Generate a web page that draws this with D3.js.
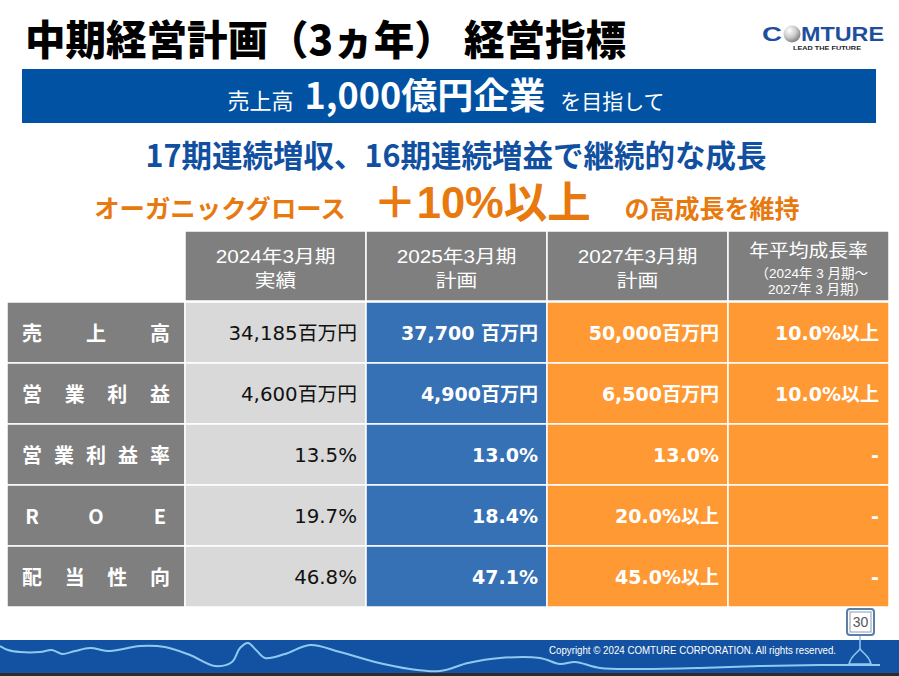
<!DOCTYPE html>
<html><head><meta charset="utf-8">
<script src="https://cdn.jsdelivr.net/npm/d3@7/dist/d3.min.js"></script>
<style>html,body{margin:0;padding:0;background:#fff;overflow:hidden}svg{display:block}</style>
</head><body>
<script>
// ---------- data ----------
const titleText = "中期経営計画（3ヵ年） 経営指標";
const bannerParts = ["売上高", "1,000億円企業", "を目指して"];
const subtitleText = "17期連続増収、16期連続増益で継続的な成長";
const growthParts = ["オーガニックグロース", "＋10%以上", "の高成長を維持"];
const rowLabels = ["売上高", "営業利益", "営業利益率", "ROE", "配当性向"];
const colHeaders = [["2024年3月期", "実績"], ["2025年3月期", "計画"], ["2027年3月期", "計画"]];
const cagrHeader = ["年平均成長率", "（2024年 3 月期～", "2027年 3 月期）"];
const actual2024 = ["34,185百万円", "4,600百万円", "13.5%", "19.7%", "46.8%"];
const plan2025 = ["37,700 百万円", "4,900百万円", "13.0%", "18.4%", "47.1%"];
const plan2027 = ["50,000百万円", "6,500百万円", "13.0%", "20.0%以上", "45.0%以上"];
const cagr = ["10.0%以上", "10.0%以上", "-", "-", "-"];
const copyright = "Copyright © 2024 COMTURE CORPORATION. All rights reserved.";
const pageNumber = "30";

// ---------- setup ----------
const W = 899, H = 676;
const JP = "'Noto Sans CJK JP','Noto Sans CJK SC',sans-serif";
const LAT = "'Liberation Sans','Noto Sans CJK JP',sans-serif";
const NUM = "'DejaVu Sans','Noto Sans CJK JP',sans-serif";
const svg = d3.select("body").append("svg").attr("width", W).attr("height", H);

const defs = svg.append("defs");
const rg = defs.append("radialGradient").attr("id", "ball").attr("cx", "35%").attr("cy", "30%").attr("r", "75%");
rg.append("stop").attr("offset", "0%").attr("stop-color", "#ffffff");
rg.append("stop").attr("offset", "55%").attr("stop-color", "#c8c8c8");
rg.append("stop").attr("offset", "100%").attr("stop-color", "#7a7a7a");

// title
svg.append("text").attr("x", 25).attr("y", 55)
  .attr("font-family", JP).attr("font-weight", 900).attr("font-size", 40.5)
  .attr("fill", "#000").text(titleText);

// logo
svg.append("circle").attr("cx", 792).attr("cy", 34).attr("r", 8.5).attr("fill", "url(#ball)");
svg.append("text").attr("x", 762).attr("y", 40.5).attr("font-family", "'Liberation Sans',sans-serif")
  .attr("font-weight", "bold").attr("font-size", 20).attr("fill", "#1f4f9c")
  .attr("textLength", 20).attr("lengthAdjust", "spacingAndGlyphs").text("C");
svg.append("text").attr("x", 801).attr("y", 40.5).attr("font-family", "'Liberation Sans',sans-serif")
  .attr("font-weight", "bold").attr("font-size", 20).attr("fill", "#1f4f9c")
  .attr("textLength", 83).attr("lengthAdjust", "spacingAndGlyphs").text("MTURE");
svg.append("text").attr("x", 793).attr("y", 50)
  .attr("font-family", "'Liberation Sans',sans-serif").attr("font-weight", "bold").attr("font-size", 5.5)
  .attr("fill", "#222").attr("textLength", 68).attr("lengthAdjust", "spacingAndGlyphs").text("LEAD THE FUTURE");

// banner
svg.append("rect").attr("x", 22).attr("y", 69).attr("width", 854).attr("height", 54).attr("fill", "#0152a3");
const bt = svg.append("text").attr("x", 446).attr("y", 109).attr("text-anchor", "middle")
  .attr("font-family", JP).attr("fill", "#fff");
bt.append("tspan").attr("font-size", 22).text(bannerParts[0]);
bt.append("tspan").attr("dx", 11).attr("font-size", 36).attr("font-weight", "bold").text(bannerParts[1]);
bt.append("tspan").attr("dx", 15).attr("font-size", 21).text(bannerParts[2]);

// subtitle
svg.append("text").attr("x", 456).attr("y", 167).attr("text-anchor", "middle")
  .attr("font-family", JP).attr("font-weight", "bold").attr("font-size", 30.5)
  .attr("fill", "#1150a0").text(subtitleText);

// growth line
const gCenters = [220, 482, 712];
const gSizes = [25.4, 43.5, 25];
const gFonts = [JP, LAT, JP];
growthParts.forEach((t, i) => {
  svg.append("text").attr("x", gCenters[i]).attr("y", 218).attr("text-anchor", "middle")
    .attr("font-family", gFonts[i]).attr("font-weight", "bold").attr("font-size", gSizes[i])
    .attr("fill", "#e8790f").text(t);
});

// ---------- table ----------
const colEdges = [7, 185, 366, 547, 728, 889];
const colX = i => colEdges[i];
const colW = i => colEdges[i + 1] - colEdges[i];
const y = d3.scaleBand().domain(rowLabels).range([302, 607]);
const headTop = 231, headBot = 301;
const fills = ["#7f7f7f", "#d9d9d9", "#3670b5", "#ff9933", "#ff9933"];
const textFill = ["#fff", "#111", "#fff", "#fff", "#fff"];
const weights = ["bold", "normal", "bold", "bold", "bold"];
const columns = [rowLabels, actual2024, plan2025, plan2027, cagr];

// header
const hdr = svg.append("g");
for (let c = 1; c <= 4; c++) {
  hdr.append("rect").attr("x", colX(c)).attr("y", headTop).attr("width", colW(c)).attr("height", headBot - headTop)
    .attr("fill", "#7f7f7f").attr("stroke", "#fff").attr("stroke-width", 1.5);
}
colHeaders.forEach((lines, i) => {
  const c = i + 1, cx = colX(c) + colW(c) / 2;
  const g = hdr.append("g").attr("transform", `translate(${cx},0) scale(1.12,1)`);
  lines.forEach((s, j) => {
    g.append("text").attr("x", 0).attr("y", 263 + j * 24).attr("text-anchor", "middle")
      .attr("font-family", LAT).attr("font-size", 18.5).attr("fill", "#fff").text(s);
  });
});
{
  const c = 4, cx = colX(c) + colW(c) / 2;
  const g = hdr.append("g").attr("transform", `translate(${cx},0) scale(1.1,1)`);
  g.append("text").attr("x", 0).attr("y", 257).attr("text-anchor", "middle")
    .attr("font-family", LAT).attr("font-size", 18).attr("fill", "#fff").text(cagrHeader[0]);
  hdr.append("text").attr("x", 868).attr("y", 278).attr("text-anchor", "end")
    .attr("font-family", LAT).attr("font-size", 13.5).attr("fill", "#fff").text(cagrHeader[1]);
  hdr.append("text").attr("x", 867).attr("y", 294).attr("text-anchor", "end")
    .attr("font-family", LAT).attr("font-size", 13.5).attr("fill", "#fff").text(cagrHeader[2]);
}

// body cells
const body = svg.append("g");
columns.forEach((vals, c) => {
  body.selectAll(null).data(rowLabels).enter().append("rect")
    .attr("x", colX(c)).attr("y", d => y(d)).attr("width", colW(c)).attr("height", y.bandwidth())
    .attr("fill", fills[c]).attr("stroke", "#fff").attr("stroke-width", 1.5);
});
// label column: spread characters across the cell
rowLabels.forEach(lbl => {
  const chars = Array.from(lbl);
  const cw = 20, x0 = 22, x1 = 170;
  const step = (x1 - x0 - cw) / (chars.length - 1);
  chars.forEach((ch, k) => {
    body.append("text").attr("x", x0 + cw / 2 + k * step).attr("y", y(lbl) + y.bandwidth() / 2 + 8)
      .attr("text-anchor", "middle").attr("font-family", JP).attr("font-weight", "bold")
      .attr("font-size", 20).attr("fill", "#fff").text(ch);
  });
});
// value columns
const rightPad = [0, 9, 9, 9, 10];
for (let c = 1; c <= 4; c++) {
  body.selectAll(null).data(columns[c]).enter().append("text")
    .attr("x", colX(c) + colW(c) - rightPad[c])
    .attr("y", (d, i) => y(rowLabels[i]) + y.bandwidth() / 2 + 7)
    .attr("text-anchor", "end").attr("font-family", NUM)
    .attr("font-weight", weights[c]).attr("font-size", c === 1 ? 19.8 : 19)
    .attr("fill", textFill[c]).text(d => d);
}

// ---------- footer ----------
svg.append("rect").attr("x", 0).attr("y", 640).attr("width", W).attr("height", 34).attr("fill", "#1352a2");
svg.append("rect").attr("x", 0).attr("y", 673).attr("width", W).attr("height", 3).attr("fill", "#2b2b2b");
const wave = [[0,646],[8,650],[20,652],[40,652],[52,650],[62,654],[75,651],[90,648],[110,651],[140,646],[165,647],[190,655],[215,666],[232,662],[240,648],[248,643],[256,650],[265,658],[285,654],[310,645],[340,652],[375,662],[410,669],[440,671],[468,663],[500,658],[540,658],[560,664],[575,662],[600,668],[640,669],[700,668],[760,666],[820,665],[880,665]];
svg.append("path").attr("d", d3.line().curve(d3.curveCatmullRom)(wave))
  .attr("fill", "none").attr("stroke", "#8fc9ef").attr("stroke-width", 2);
svg.append("text").attr("x", 549).attr("y", 654).attr("font-family", "'Liberation Sans Narrow','Liberation Sans',sans-serif")
  .attr("font-size", 10.5).attr("fill", "#fff").attr("textLength", 287).attr("lengthAdjust", "spacingAndGlyphs").text(copyright);
// page number badge
svg.append("path").attr("d", "M849,664 C851,656 855,655 860,649 C865,655 869,656 871,664 Z")
  .attr("fill", "none").attr("stroke", "#8fc9ef").attr("stroke-width", 1.5);
svg.append("line").attr("x1", 860).attr("x2", 860).attr("y1", 635).attr("y2", 649).attr("stroke", "#8fc9ef").attr("stroke-width", 1.5);
svg.append("rect").attr("x", 847).attr("y", 609).attr("width", 27).attr("height", 26).attr("rx", 3)
  .attr("fill", "#fff").attr("stroke", "#5b7ea6").attr("stroke-width", 2);
svg.append("rect").attr("x", 850).attr("y", 612).attr("width", 21).attr("height", 20)
  .attr("fill", "none").attr("stroke", "#8a9bb0").attr("stroke-width", 1);
svg.append("text").attr("x", 860.5).attr("y", 627).attr("text-anchor", "middle")
  .attr("font-family", "'Liberation Sans Narrow','Liberation Sans',sans-serif").attr("font-size", 14)
  .attr("fill", "#555").text(pageNumber);
</script>
</body></html>
